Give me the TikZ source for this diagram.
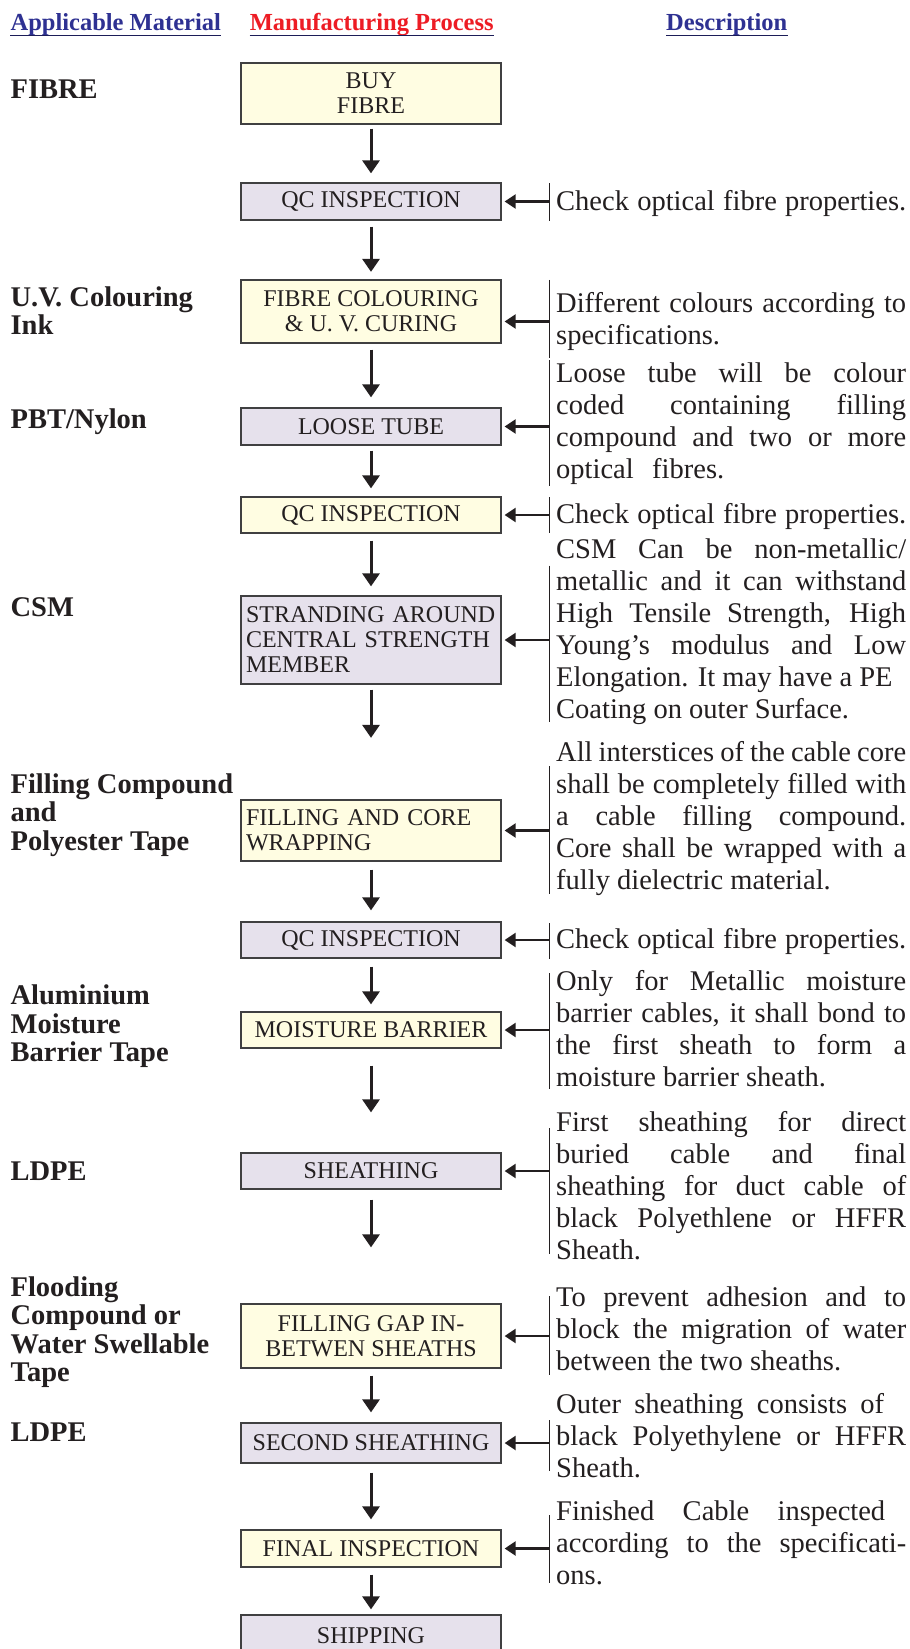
\documentclass[tikz,border=0pt]{standalone}
\usepackage{fontspec}
\setmainfont{Liberation Serif}
\usetikzlibrary{arrows.meta}

\definecolor{headblue}{HTML}{2E3192}
\definecolor{headred}{HTML}{ED1C24}
\definecolor{boxyellow}{HTML}{FFFDE2}
\definecolor{boxlilac}{HTML}{E6E1EC}
\definecolor{boxline}{HTML}{404041}
\definecolor{inkc}{HTML}{231F20}

\newlength{\descw}
\setlength{\descw}{350pt}
\newcommand{\jl}[1]{\makebox[\descw][s]{#1}}
\newcommand{\jlw}[2]{\makebox[#1][s]{#2}}

\tikzset{
    head/.style={font=\fontsize{24.5}{28}\selectfont\bfseries, inner sep=0pt},
    uline/.style={line width=1.4pt, draw=headblue!60!black},
    matlabel/.style={font=\fontsize{28.5}{28.5}\selectfont\bfseries, text=inkc, align=left, inner sep=0pt},
    procbox/.style={draw=boxline, line width=1.3pt, minimum width=260pt, inner xsep=5pt, inner ysep=0pt,
        font=\fontsize{24}{25}\selectfont, text=inkc, align=center},
    yellowbox/.style={procbox, fill=boxyellow},
    lilacbox/.style={procbox, fill=boxlilac},
    leftbox/.style={text width=250pt, align=left},
    desc/.style={font=\fontsize{28.5}{32}\selectfont, text=inkc, align=left, inner xsep=7pt, inner ysep=0pt, anchor=north west},
    bar/.style={line width=0.9pt, draw=inkc},
    flow/.style={draw=inkc, line width=3pt, -{Triangle[length=13pt, width=17pt]}},
    feed/.style={draw=inkc, line width=2.4pt, -{Triangle[length=11pt, width=14pt]}, shorten >=3pt},
}

\begin{document}
\begin{tikzpicture}[x=1pt, y=-1pt]
    \useasboundingbox (0,0) rectangle (910,1649);
    \fill[white] (0,0) rectangle (910,1649);

    \node[head, text=headblue, anchor=base west] (hmat) at (10.4,30) {Applicable Material};
    \node[head, text=headred, anchor=base west] (hproc) at (249.6,30) {Manufacturing Process};
    \node[head, text=headblue, anchor=base west] (hdesc) at (666,30) {Description};
    \draw[uline] ([yshift=-5.5pt]hmat.base west) -- ([yshift=-5.5pt]hmat.base east);
    \draw[uline] ([yshift=-5.5pt]hproc.base west) -- ([yshift=-5.5pt]hproc.base east);
    \draw[uline] ([yshift=-5.5pt]hdesc.base west) -- ([yshift=-5.5pt]hdesc.base east);

    \node[matlabel, anchor=base west] (m1) at (10.4,98.4) {FIBRE};
    \node[matlabel, anchor=north west] (m2) at (10.4,286.5) {U.V. Colouring\\Ink};
    \node[matlabel, anchor=base west] (m3) at (10.4,428) {PBT/Nylon};
    \node[matlabel, anchor=base west] (m4) at (10.4,616) {CSM};
    \node[matlabel, anchor=north west] (m5) at (10.4,773.5) {Filling Compound\\and\\Polyester Tape};
    \node[matlabel, anchor=north west] (m6) at (10.4,985) {Aluminium\\Moisture\\Barrier Tape};
    \node[matlabel, anchor=base west] (m7) at (10.4,1180) {LDPE};
    \node[matlabel, anchor=north west] (m8) at (10.4,1276.5) {Flooding\\Compound or\\Water Swellable\\Tape};
    \node[matlabel, anchor=base west] (m9) at (10.4,1441) {LDPE};

    \node[yellowbox, minimum height=61pt] (b1) at (371,93.5) {BUY\\FIBRE};
    \node[lilacbox, minimum height=37pt] (b2) at (371,201.5) {QC INSPECTION};
    \node[yellowbox, minimum height=63pt] (b3) at (371,311.5) {FIBRE COLOURING\\\& U. V. CURING};
    \node[lilacbox, minimum height=37pt] (b4) at (371,426.5) {LOOSE TUBE};
    \node[yellowbox, minimum height=36pt] (b5) at (371,515) {QC INSPECTION};
    \node[lilacbox, leftbox, minimum height=88pt] (b6) at (371,640) {STRANDING AROUND\\CENTRAL STRENGTH\\MEMBER};
    \node[yellowbox, leftbox, minimum height=61pt] (b7) at (371,830.5) {FILLING AND CORE\\WRAPPING};
    \node[lilacbox, minimum height=36pt] (b8) at (371,940) {QC INSPECTION};
    \node[yellowbox, minimum height=36pt] (b9) at (371,1030) {MOISTURE BARRIER};
    \node[lilacbox, minimum height=36pt] (b10) at (371,1171) {SHEATHING};
    \node[yellowbox, minimum height=64pt] (b11) at (371,1336) {FILLING GAP IN-\\BETWEN SHEATHS};
    \node[lilacbox, minimum height=40pt] (b12) at (371,1443) {SECOND SHEATHING};
    \node[yellowbox, minimum height=37pt] (b13) at (371,1548.5) {FINAL INSPECTION};
    \node[lilacbox, minimum height=42pt] (b14) at (371,1636) {SHIPPING};

    \draw[flow, shorten <=4pt, shorten >=9pt] (b1) -- (b2);
    \draw[flow, shorten <=6pt, shorten >=7.5pt] (b2) -- (b3);
    \draw[flow, shorten <=6pt, shorten >=10pt] (b3) -- (b4);
    \draw[flow, shorten <=5pt, shorten >=8pt] (b4) -- (b5);
    \draw[flow, shorten <=7pt, shorten >=9pt] (b5) -- (b6);
    \draw[flow, shorten <=5pt, shorten >=61.5pt] (b6) -- (b7);
    \draw[flow, shorten <=8pt, shorten >=11pt] (b7) -- (b8);
    \draw[flow, shorten <=8pt, shorten >=7pt] (b8) -- (b9);
    \draw[flow, shorten <=17pt, shorten >=40pt] (b9) -- (b10);
    \draw[flow, shorten <=10pt, shorten >=56pt] (b10) -- (b11);
    \draw[flow, shorten <=7pt, shorten >=10pt] (b11) -- (b12);
    \draw[flow, shorten <=9pt, shorten >=10pt] (b12) -- (b13);
    \draw[flow, shorten <=7pt, shorten >=5pt] (b13) -- (b14);

    \node[desc] (d1) at (549,190) {\jl{Check optical fibre properties.}};
    \node[desc] (d2) at (549,291.8) {\jl{Different colours according to}\\specifications.};
    \node[desc] (d3) at (549,362.3) {\jl{Loose tube will be colour}\\\jl{coded containing filling}\\
        \jl{compound and two or more}\\\jlw{168pt}{optical fibres.}};
    \node[desc] (d4) at (549,503.4) {\jl{Check optical fibre properties.}};
    \node[desc] (d5) at (549,538.6) {\jl{CSM Can be non-metallic/}\\\jl{metallic and it can withstand}\\
        \jl{High Tensile Strength, High}\\\jl{Young’s modulus and Low}\\
        Elongation. It may have a PE\\Coating on outer Surface.};
    \node[desc] (d6) at (549,741) {\jl{All interstices of the cable core}\\\jl{shall be completely filled with}\\
        \jl{a cable filling compound.}\\\jl{Core shall be wrapped with a}\\fully dielectric material.};
    \node[desc] (d7) at (549,928.4) {\jl{Check optical fibre properties.}};
    \node[desc] (d8) at (549,970) {\jl{Only for Metallic moisture}\\\jl{barrier cables, it shall bond to}\\
        \jl{the first sheath to form a}\\moisture barrier sheath.};
    \node[desc] (d9) at (549,1111) {\jl{First sheathing for direct}\\\jl{buried cable and final}\\
        \jl{sheathing for duct cable of}\\\jl{black Polyethlene or HFFR}\\Sheath.};
    \node[desc] (d10) at (549,1287) {\jl{To prevent adhesion and to}\\\jl{block the migration of water}\\
        between the two sheaths.};
    \node[desc] (d11) at (549,1393) {\jlw{328pt}{Outer sheathing consists of}\\\jl{black Polyethylene or HFFR}\\Sheath.};
    \node[desc] (d12) at (549,1501) {\jlw{329pt}{Finished Cable inspected}\\\jl{according to the specificati-}\\ons.};

    \draw[bar] (d1.north west) ++(0,-7) -- ++(0,38);
    \draw[bar] (d2.north west) ++(0,-12) -- ++(0,78);
    \draw[bar] (d3.north west) ++(0,-2) -- ++(0,126);
    \draw[bar] (d4.north west) ++(0,-6) -- ++(0,36);
    \draw[bar] (d5.north west) ++(0,27) -- ++(0,156);
    \draw[bar] (d6.north west) ++(0,25) -- ++(0,128);
    \draw[bar] (d7.north west) ++(0,-5) -- ++(0,36);
    \draw[bar] (d8.north west) ++(0,3) -- ++(0,116);
    \draw[bar] (d9.north west) ++(0,17) -- ++(0,126);
    \draw[bar] (d10.north west) ++(0,9) -- ++(0,79);
    \draw[bar] (d11.north west) ++(0,27) -- ++(0,51);
    \draw[bar] (d12.north west) ++(0,14) -- ++(0,68);

    \draw[feed] (b2.east -| d1.west) -- (b2.east);
    \draw[feed] ([yshift=-10pt]b3.east -| d2.west) -- ([yshift=-10pt]b3.east);
    \draw[feed] (b4.east -| d3.west) -- (b4.east);
    \draw[feed] (b5.east -| d4.west) -- (b5.east);
    \draw[feed] (b6.east -| d5.west) -- (b6.east);
    \draw[feed] (b7.east -| d6.west) -- (b7.east);
    \draw[feed] (b8.east -| d7.west) -- (b8.east);
    \draw[feed] (b9.east -| d8.west) -- (b9.east);
    \draw[feed] (b10.east -| d9.west) -- (b10.east);
    \draw[feed] (b11.east -| d10.west) -- (b11.east);
    \draw[feed] (b12.east -| d11.west) -- (b12.east);
    \draw[feed] (b13.east -| d12.west) -- (b13.east);
\end{tikzpicture}
\end{document}
